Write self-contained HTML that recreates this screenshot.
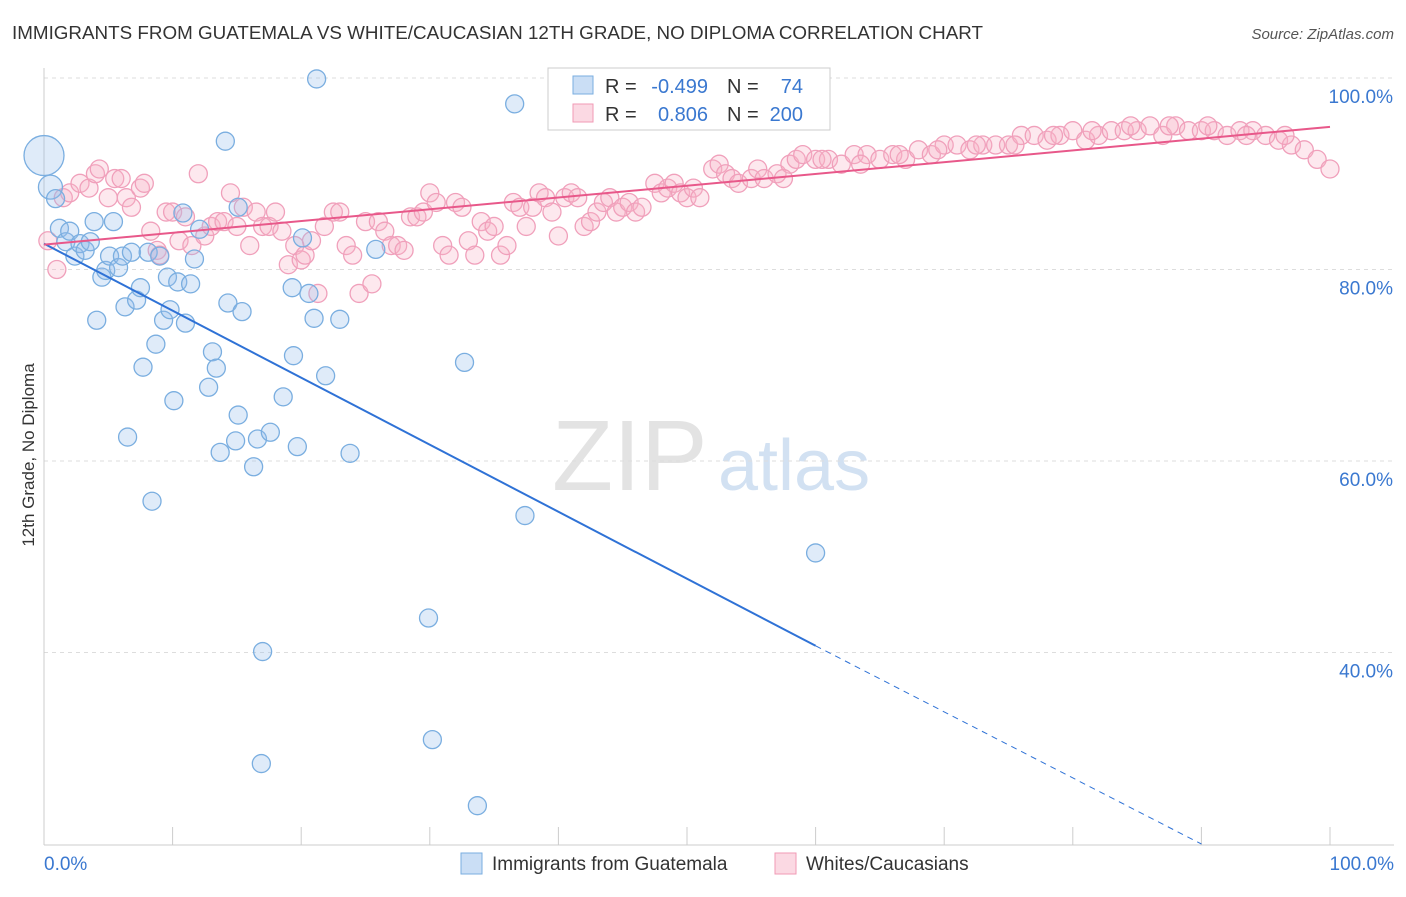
<!DOCTYPE html>
<html><head><meta charset="utf-8"><style>
body{margin:0;background:#fff;font-family:"Liberation Sans",sans-serif;}
svg text{font-family:"Liberation Sans",sans-serif;}
</style></head><body>
<svg id="chart" width="1406" height="892" xmlns="http://www.w3.org/2000/svg">
<text x="12" y="39" font-size="18" fill="#333" textLength="971" lengthAdjust="spacingAndGlyphs">IMMIGRANTS FROM GUATEMALA VS WHITE/CAUCASIAN 12TH GRADE, NO DIPLOMA CORRELATION CHART</text>
<text x="1394" y="39" font-size="15" fill="#555" text-anchor="end" font-style="italic">Source: ZipAtlas.com</text>
<text x="552" y="490" font-size="100" fill="#ddd" font-family="Liberation Serif" opacity="0.8">ZIP</text>
<text x="718" y="490" font-size="72" fill="#c8daf0" opacity="0.8">atlas</text>
<text transform="translate(34,455) rotate(-90)" font-size="17" fill="#333" text-anchor="middle">12th Grade, No Diploma</text>
<g id="grid"></g><g id="axes"></g><g id="pink"></g><g id="blue"></g><g id="lines"></g>
<g>
<rect x="548" y="68" width="282" height="62" fill="#fff" stroke="#ccc"/>
<rect x="573" y="76" width="20" height="18" fill="rgba(150,190,235,0.5)" stroke="#7aaee0"/>
<rect x="573" y="104" width="20" height="18" fill="rgba(248,180,200,0.5)" stroke="#f09ab5"/>
<text x="605" y="93" font-size="20" fill="#333">R =</text>
<text x="708" y="93" font-size="20" fill="#3a78d0" text-anchor="end">-0.499</text>
<text x="727" y="93" font-size="20" fill="#333">N =</text>
<text x="803" y="93" font-size="20" fill="#3a78d0" text-anchor="end">74</text>
<text x="605" y="121" font-size="20" fill="#333">R =</text>
<text x="708" y="121" font-size="20" fill="#3a78d0" text-anchor="end">0.806</text>
<text x="727" y="121" font-size="20" fill="#333">N =</text>
<text x="803" y="121" font-size="20" fill="#3a78d0" text-anchor="end">200</text>
</g>
<g>
<rect x="461" y="853" width="21" height="21" fill="rgba(150,190,235,0.5)" stroke="#7aaee0"/>
<text x="492" y="870" font-size="19" fill="#333">Immigrants from Guatemala</text>
<rect x="775" y="853" width="21" height="21" fill="rgba(248,180,200,0.5)" stroke="#f09ab5"/>
<text x="806" y="870" font-size="19" fill="#333">Whites/Caucasians</text>
</g>
</svg>
<script>
const blueX=[0,0.5,0.9,1.2,1.7,2.0,2.4,2.8,3.2,3.6,3.9,4.1,4.5,4.8,5.1,5.4,5.8,6.1,6.3,6.5,6.8,7.2,7.5,7.7,8.1,8.4,8.7,9.0,9.3,9.6,9.8,10.1,10.4,10.8,11.0,11.4,11.7,12.1,12.8,13.1,13.4,13.7,14.1,14.3,14.9,15.1,15.1,15.4,16.3,16.6,17.0,16.9,17.6,18.6,19.3,19.4,19.7,20.1,20.6,21.0,21.2,21.9,23.0,23.8,25.8,29.9,30.2,32.7,33.7,36.6,37.4,60.0];
const blueY=[91.9,88.6,87.4,84.3,82.9,84.0,81.4,82.7,82.0,82.9,85.0,74.7,79.2,79.9,81.4,85.0,80.2,81.4,76.1,62.5,81.8,76.8,78.1,69.8,81.8,55.8,72.2,81.4,74.7,79.2,75.8,66.3,78.7,85.9,74.4,78.5,81.1,84.2,67.7,71.4,69.7,60.9,93.4,76.5,62.1,64.8,86.5,75.6,59.4,62.3,40.1,28.4,63.0,66.7,78.1,71.0,61.5,83.3,77.5,74.9,99.9,68.9,74.8,60.8,82.1,43.6,30.9,70.3,24.0,97.3,54.3,50.4];
const pinkX=[0.3,1,1.5,2,2.8,3.5,4,4.3,5,5.5,6,6.4,6.8,7.5,7.8,8.3,8.8,9,9.5,10,10.5,11,11.5,12,12.5,13,13.5,14,14.5,15,15.5,16,16.5,17,17.5,18,18.5,19,19.5,20,20.3,20.8,21.3,21.8,22.5,23,23.5,24,24.5,25,25.5,26,26.5,27,27.5,28,28.5,29,29.5,30,30.5,31,31.5,32,32.5,33,33.5,34,34.5,35,35.5,36,36.5,37,37.5,38,38.5,39,39.5,40,40.5,41,41.5,42,42.5,43,43.5,44,44.5,45,45.5,46,46.5,47.5,48,48.5,49,49.5,50,50.5,51,52,52.5,53,53.5,54,55,55.5,56,57,58,58.5,59,60,61,62,63,64,65,66,67,68,69,70,71,72,73,74,75,76,77,78,79,80,81,82,83,84,85,86,87,88,89,90,91,92,93,94,95,96,97,98,99,100,96.5,93.5,90.5,87.5,84.5,81.5,78.5,75.5,72.5,69.5,66.5,63.5,60.5,57.5];
const pinkY=[83,80,87.5,88,89,88.5,90,90.5,87.5,89.5,89.5,87.5,86.5,88.5,89,84,82,81.5,86,86,83,85.5,82.5,90,83.5,84.5,85,85,88,84.5,86.5,82.5,86,84.5,84.5,86,84,80.5,82.5,81,81.5,83,77.5,84.5,86,86,82.5,81.5,77.5,85,78.5,85,84,82.5,82.5,82,85.5,85.5,86,88,87,82.5,81.5,87,86.5,83,81.5,85,84,84.5,81.5,82.5,87,86.5,84.5,86.5,88,87.5,86,83.5,87.5,88,87.5,84.5,85,86,87,87.5,86,86.5,87,86,86.5,89,88,88.5,89,88,87.5,88.5,87.5,90.5,91,90,89.5,89,89.5,90.5,89.5,90,91,91.5,92,91.5,91.5,91,92,92,91.5,92,91.5,92.5,92,93,93,92.5,93,93,93,94,94,93.5,94,94.5,93.5,94,94.5,94.5,94.5,95,94,95,94.5,94.5,94.5,94,94.5,94.5,94,93.5,93,92.5,91.5,90.5,94,94,95,95,95,94.5,94,93,93,92.5,92,91,91.5,89.5];
const yTicks=[100,80,60,40];
const yTickLabels=["100.0%","80.0%","60.0%","40.0%"];
const xTicks=[0,10,20,30,40,50,60,70,80,90,100];
const blueFit=[0,82.7,60,40.7,90,20];
const pinkFit=[0,82.6,100,94.9];
const NS="http://www.w3.org/2000/svg";
const X=v=>44+v*12.86, Y=v=>78+(100-v)*9.575;
function mk(p,t,a){const e=document.createElementNS(NS,t);for(const k in a)e.setAttribute(k,a[k]);document.getElementById(p).appendChild(e);return e;}
yTicks.forEach((t,i)=>{
 const l=mk('grid','line',{x1:44,x2:1394,y1:Y(t),y2:Y(t),stroke:'#ddd','stroke-dasharray':'4,4'});
 
 
 const tx=mk('grid','text',{x:1393,y:Y(t)+25,'font-size':19,fill:'#3a78d0','text-anchor':'end'});
 tx.textContent=yTickLabels[i];
 
 
});
const ax=mk('axes','line',{x1:44,x2:44,y1:68,y2:845,stroke:'#ccc'});


const bx=mk('axes','line',{x1:44,x2:1394,y1:845,y2:845,stroke:'#ccc'});


xTicks.forEach(t=>{
 const l=mk('axes','line',{x1:X(t),x2:X(t),y1:827,y2:845,stroke:'#ccc'});
 
 
});
[[0,'0.0%','start',44],[100,'100.0%','end',1394]].forEach(d=>{
 const t=mk('axes','text',{x:d[3],y:870,'font-size':19,fill:'#3a78d0','text-anchor':d[2]});
 t.textContent=d[1];
 
 
});
pinkX.forEach((x,i)=>{
 const c=mk('pink','circle',{cx:X(x),cy:Y(pinkY[i]),r:9,fill:'rgba(248,180,200,0.3)',stroke:'#f0a0bb','stroke-width':1.3});
 
 
});
blueX.forEach((x,i)=>{
 const c=mk('blue','circle',{cx:X(x),cy:Y(blueY[i]),r:i==0?20:(i==1?12:9),fill:'rgba(150,190,235,0.3)',stroke:'#7aaee0','stroke-width':1.3});
 
 
});
const b1=mk('lines','line',{x1:X(blueFit[0]),y1:Y(blueFit[1]),x2:X(blueFit[2]),y2:Y(blueFit[3]),stroke:'#2f72d6','stroke-width':2});


const b2=mk('lines','line',{x1:X(blueFit[2]),y1:Y(blueFit[3]),x2:X(blueFit[4]),y2:Y(blueFit[5]),stroke:'#2f72d6','stroke-width':1,'stroke-dasharray':'6,5'});


const p1=mk('lines','line',{x1:X(pinkFit[0]),y1:Y(pinkFit[1]),x2:X(pinkFit[2]),y2:Y(pinkFit[3]),stroke:'#e8588a','stroke-width':2});


</script>
</body></html>
